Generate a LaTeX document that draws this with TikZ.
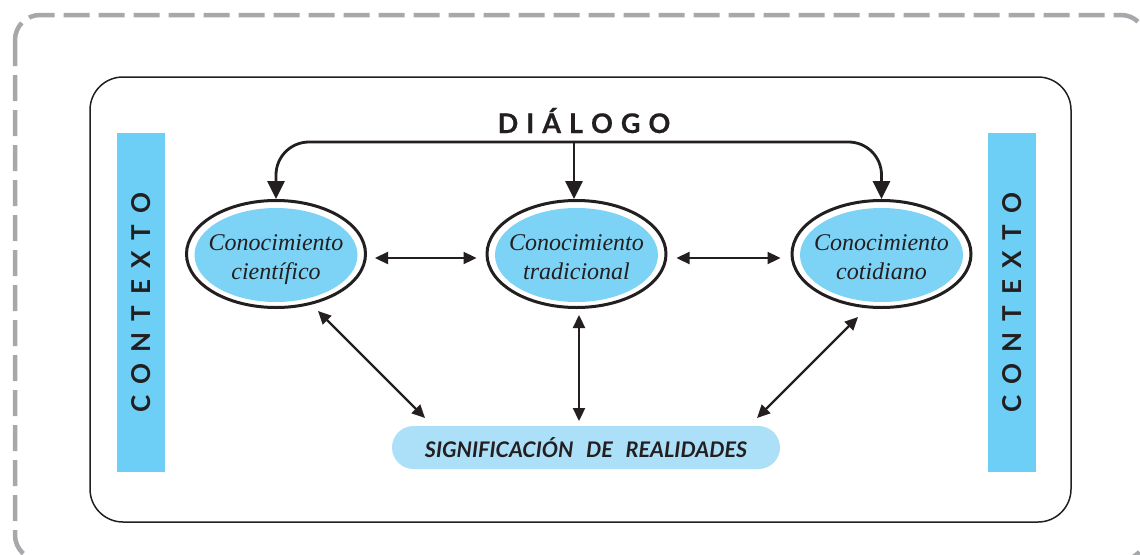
\documentclass[tikz,border=0pt]{standalone}
\usepackage{fontspec}
\usetikzlibrary{arrows.meta,shapes.geometric,calc}
\newfontfamily\latofont{Lato}
\newfontfamily\latoheavy{Lato}[BoldFeatures={FakeBold=0.5}]
\newfontfamily\serfont{Liberation Serif}
\definecolor{ink}{HTML}{231F20}
\definecolor{barc}{HTML}{6DCFF6}
\definecolor{ellc}{HTML}{7DD3F5}
\definecolor{pillc}{HTML}{ABE0F8}
\definecolor{dashc}{HTML}{A7A8AB}
\tikzset{
  ell/.style={ellipse, draw=ink, line width=3pt, minimum width=179pt, minimum height=107pt, inner sep=0pt},
  elltext/.style={text=ink, align=center, font=\serfont\itshape\fontsize{24}{29}\selectfont, inner sep=0pt},
  bar/.style={fill=barc, rotate=90, minimum width=339pt, minimum height=48pt, inner sep=0pt, text=ink,
              font=\latofont\bfseries\fontsize{26}{30}\selectfont},
  pill/.style={fill=pillc, rounded corners=21.5pt, minimum width=388pt, minimum height=43pt, inner sep=0pt,
               text=ink, font=\latoheavy\bfseries\itshape\fontsize{21.5}{25}\selectfont},
  dlgarrow/.style={draw=ink, line width=2.8pt, -{Triangle[length=18pt,width=17pt]}},
  dbl/.style={draw=ink, line width=2.3pt, {Triangle[length=13pt,width=12pt]}-{Triangle[length=13pt,width=12pt]}}
}
\begin{document}
\begin{tikzpicture}[x=1pt,y=-1pt]
\useasboundingbox (0,0) rectangle (1140,554);
\clip (0,0) rectangle (1140,554);
\fill[white] (0,0) rectangle (1140,554);
% dashed outer frame
\draw[dashc, line width=4.5pt, dash pattern=on 26pt off 9pt, rounded corners=25pt] (15,15) rectangle (1146,560);
% inner frame
\draw[ink, line width=1.5pt, rounded corners=33pt] (90,77) rectangle (1071,522);
% context bars
\node[bar] (ctxL) at (141,302.5) {C\kern11pt O\kern11pt N\kern11pt T\kern11pt E\kern11pt X\kern11pt T\kern11pt O};
\node[bar] (ctxR) at (1012,302.5) {C\kern11pt O\kern11pt N\kern11pt T\kern11pt E\kern11pt X\kern11pt T\kern11pt O};
% ellipse fills
\fill[ellc] (276,255) ellipse [x radius=81.5pt, y radius=47pt];
\fill[ellc] (576.5,255) ellipse [x radius=81.5pt, y radius=47pt];
\fill[ellc] (881.5,255) ellipse [x radius=81.5pt, y radius=47pt];
% ellipses
\node[ell] (e1) at (276,254) {};
\node[ell] (e2) at (576.5,254) {};
\node[ell] (e3) at (881.5,254) {};
\node[elltext] (t1) at (276,260) {Conocimiento\\científico};
\node[elltext] (t2) at (576.5,257) {Conocimiento\\tradicional};
\node[elltext] (t3) at (881.5,257) {Conocimiento\\cotidiano};
% dialogo
\node[text=ink, anchor=base, inner sep=0pt, font=\latoheavy\bfseries\fontsize{27}{30}\selectfont] (dlg) at (584,133)
  {D\kern8pt I\kern8pt Á\kern8pt L\kern8pt O\kern8pt G\kern8pt O};
\coordinate (top) at ($(dlg.base)+(-10,9)$);
\draw[dlgarrow, rounded corners=33pt] (top) -| (e1.north);
\draw[dlgarrow, rounded corners=33pt] (top) -| (e3.north);
\draw[dlgarrow] (top) -- (top |- e2.north);
% significacion
\node[pill] (sig) at (586,447.5) {SIGNIFICACIÓN\hspace{8pt} DE\hspace{8pt} REALIDADES};
% double arrows
\draw[dbl, shorten <=8pt, shorten >=9pt] ([yshift=-4pt]e1.east) -- ([yshift=-4pt]e2.west);
\draw[dbl, shorten <=9pt, shorten >=10pt] ([yshift=-4pt]e2.east) -- ([yshift=-4pt]e3.west);
\draw[dbl] ($(e1.center)+(42,57)$) -- ($(sig.center)+(-161,-29.5)$);
\draw[dbl] ($(e2.center)+(2.5,61)$) -- ($(sig.center)+(-7,-26.5)$);
\draw[dbl] ($(e3.center)+(-23.5,63)$) -- ($(sig.center)+(171,-29.5)$);
\end{tikzpicture}
\end{document}
